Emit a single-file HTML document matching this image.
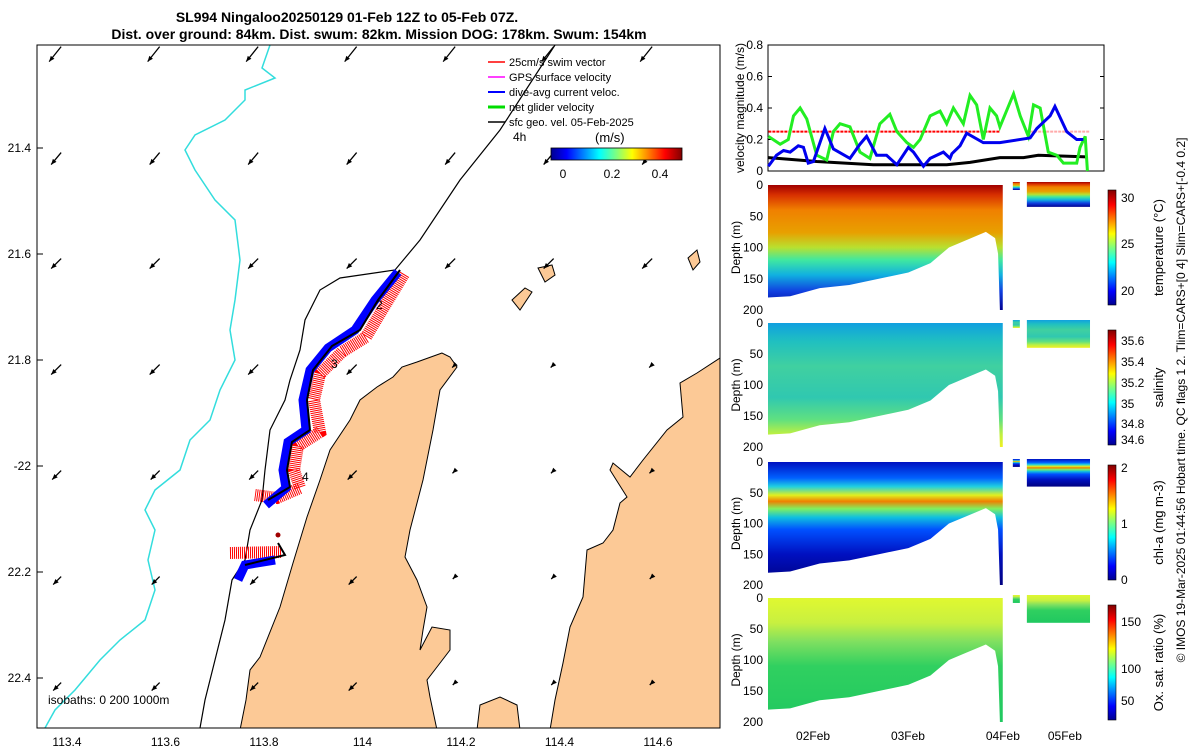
<!DOCTYPE html>
<html><head><meta charset="utf-8"><style>
body{margin:0;background:#fff}
svg{display:block;font-family:"Liberation Sans",sans-serif}
</style></head><body>
<svg id="fig" width="1200" height="750" viewBox="0 0 1200 750" xmlns="http://www.w3.org/2000/svg">
<defs>
<linearGradient id="jetH" x1="0" x2="1" y1="0" y2="0">
<stop offset="0" stop-color="#00008f"/><stop offset="0.12" stop-color="#0000ff"/><stop offset="0.37" stop-color="#00ffff"/><stop offset="0.5" stop-color="#7fff7f"/><stop offset="0.62" stop-color="#ffff00"/><stop offset="0.87" stop-color="#ff0000"/><stop offset="1" stop-color="#800000"/></linearGradient>
<linearGradient id="jetV" x1="0" x2="0" y1="1" y2="0">
<stop offset="0" stop-color="#00008f"/><stop offset="0.12" stop-color="#0000ff"/><stop offset="0.37" stop-color="#00ffff"/><stop offset="0.5" stop-color="#7fff7f"/><stop offset="0.62" stop-color="#ffff00"/><stop offset="0.87" stop-color="#ff0000"/><stop offset="1" stop-color="#800000"/></linearGradient>
<linearGradient id="gTemp" x1="0" x2="0" y1="0" y2="1">
<stop offset="0" stop-color="#a00000"/><stop offset="0.08" stop-color="#d83000"/><stop offset="0.2" stop-color="#f08000"/><stop offset="0.38" stop-color="#e8a000"/><stop offset="0.5" stop-color="#b8e030"/><stop offset="0.6" stop-color="#40e8a0"/><stop offset="0.72" stop-color="#10b0e0"/><stop offset="0.85" stop-color="#1040e0"/><stop offset="1" stop-color="#000090"/></linearGradient>
<linearGradient id="gSal" x1="0" x2="0" y1="0" y2="1">
<stop offset="0" stop-color="#10a0e0"/><stop offset="0.15" stop-color="#20c0c0"/><stop offset="0.35" stop-color="#40d0a0"/><stop offset="0.6" stop-color="#30c8b0"/><stop offset="0.78" stop-color="#60e080"/><stop offset="0.9" stop-color="#c0f040"/><stop offset="1" stop-color="#f0f020"/></linearGradient>
<linearGradient id="gChl" x1="0" x2="0" y1="0" y2="1">
<stop offset="0" stop-color="#0010c0"/><stop offset="0.13" stop-color="#0060ff"/><stop offset="0.2" stop-color="#20d0e0"/><stop offset="0.27" stop-color="#e0f020"/><stop offset="0.32" stop-color="#f08000"/><stop offset="0.38" stop-color="#80f060"/><stop offset="0.45" stop-color="#10c0e0"/><stop offset="0.55" stop-color="#0050ff"/><stop offset="0.75" stop-color="#0010c0"/><stop offset="1" stop-color="#000080"/></linearGradient>
<linearGradient id="gOx" x1="0" x2="0" y1="0" y2="1">
<stop offset="0" stop-color="#e0f830"/><stop offset="0.2" stop-color="#c8f040"/><stop offset="0.35" stop-color="#80e060"/><stop offset="0.55" stop-color="#30d060"/><stop offset="1" stop-color="#20c860"/></linearGradient>
</defs>

<text x="347" y="22" font-size="14" font-weight="bold" text-anchor="middle">SL994 Ningaloo20250129 01-Feb 12Z to 05-Feb 07Z.</text>
<text x="379" y="39" font-size="14" font-weight="bold" text-anchor="middle">Dist. over ground: 84km. Dist. swum: 82km. Mission DOG: 178km. Swum: 154km</text>

<g id="map">
<clipPath id="mapclip"><rect x="37" y="45" width="683" height="683"/></clipPath>
<g clip-path="url(#mapclip)">
<path fill="#fcc996" stroke="#000" stroke-width="1" d="M442,353 L417,362 402,367 393,377 377,387 360,400 350,420 330,450 320,480 307,517 293,563 280,607 260,657 250,670 246,700 240,730 437,730 430,697 427,680 437,667 450,650 450,630 432,627 420,650 423,630 427,607 417,580 405,557 410,530 423,480 433,430 440,390 457,367 450,357 Z"/>
<path fill="#fcc996" stroke="#000" stroke-width="1" d="M550,730 L555,700 563,663 570,627 583,597 587,550 603,543 613,530 620,503 627,497 610,470 613,463 630,477 643,460 667,430 683,417 680,383 697,373 720,358 722,358 722,730 Z"/>
<path fill="#fcc996" stroke="#000" stroke-width="1" d="M477,730 L480,705 500,697 517,705 520,730 Z"/>
<path fill="#fcc996" stroke="#000" d="M538,268 L552,265 555,275 545,282 Z"/>
<path fill="#fcc996" stroke="#000" d="M512,300 L525,288 532,292 520,310 Z"/>
<path fill="#fcc996" stroke="#000" d="M688,258 L697,250 700,262 693,270 Z"/>
<path fill="none" stroke="#33dddd" stroke-width="1.5" d="M270,45 L262,68 275,78 245,90 245,100 225,120 195,135 185,150 195,170 215,200 235,220 240,260 235,300 230,330 235,360 220,390 210,420 190,440 180,470 155,490 145,510 155,530 148,560 155,590 145,620 120,640 100,660 75,690 55,710 45,728"/>
<path fill="none" stroke="#000" stroke-width="1.2" d="M555,45 L500,130 460,180 420,240 395,270 340,278 320,290 305,320 300,350 290,380 285,400 270,430 265,470 262,500 250,530 245,560 232,580 225,620 215,660 205,700 200,728"/>
<g id="arrows"></g>
<g>
<path fill="none" stroke="#ff0000" stroke-width="12" stroke-dasharray="1 1" d="M404,274 L384,307 366,337 342,352 320,374 314,400 320,432 298,446 294,470 300,488 277,498 255,495"/>
<path fill="none" stroke="#ff0000" stroke-width="12" stroke-dasharray="1 1" d="M230,553 L282,552"/>
<path fill="none" stroke="#0000ff" stroke-width="9" d="M398,272 L375,300 355,330 328,348 310,370 303,400 306,430 288,442 283,470 286,488 266,505"/>
<path fill="none" stroke="#0000ff" stroke-width="9" d="M238,580 L245,565 275,560"/>
<path fill="none" stroke="#000" stroke-width="2" d="M400,270 L378,300 360,330 332,346 313,370 307,400 310,430 292,442 287,470 290,487 268,500"/>
<path fill="none" stroke="#000" stroke-width="2" d="M245,565 L285,555 278,543"/>
<circle cx="278" cy="535" r="2.5" fill="#a00000"/>
<text x="376" y="309" font-size="12">2</text><text x="331" y="368" font-size="12">3</text>
<text x="302" y="481" font-size="12">4</text>
</g>
</g>
<rect x="37" y="45" width="683" height="683" fill="none" stroke="#000" stroke-width="1"/>
<g id="mapticks" font-size="12"></g>
<text x="48" y="704" font-size="12">isobaths: 0   200  1000m</text>
<g font-size="11">
<line x1="488" y1="62" x2="505" y2="62" stroke="#ff0000" stroke-width="1.5"/><text x="509" y="66">25cm/s swim vector</text>
<line x1="488" y1="77" x2="505" y2="77" stroke="#ff00ff" stroke-width="1.5"/><text x="509" y="81">GPS surface velocity</text>
<line x1="488" y1="92" x2="505" y2="92" stroke="#0000ff" stroke-width="2"/><text x="509" y="96">dive-avg current veloc.</text>
<line x1="488" y1="107" x2="505" y2="107" stroke="#00dd00" stroke-width="3"/><text x="509" y="111">net glider velocity</text>
<line x1="488" y1="122" x2="505" y2="122" stroke="#000" stroke-width="1.5"/><text x="509" y="126">sfc geo. vel. 05-Feb-2025</text>
<text x="513" y="141" font-size="12">4h</text>
<text x="595" y="142" font-size="13">(m/s)</text>
<rect x="551" y="148" width="131" height="12" fill="url(#jetH)" stroke="#000" stroke-width="0.8"/>
<text x="563" y="178" font-size="12" text-anchor="middle">0</text>
<text x="612" y="178" font-size="12" text-anchor="middle">0.2</text>
<text x="660" y="178" font-size="12" text-anchor="middle">0.4</text>
</g>
</g>

<g id="vel"></g>
<g id="sections"></g>
<text transform="translate(1185,400) rotate(-90)" font-size="12" text-anchor="middle">© IMOS 19-Mar-2025 01:44:56 Hobart time. QC flags 1  2. Tlim=CARS+[0 4] Slim=CARS+[-0.4 0.2]</text>
</svg>
<script>
// ---------- data ----------
const greenH=[0.1,3.3,5.5,6.9,8.7,10.5,13.2,15.9,17.7,19.5,22.2,24.9,27.6,30.3,33.0,34.9,37.6,39.4,41.2,43.9,46.6,48.4,50.2,52.9,54.7,56.5,58.3,60.1,61.9,62.8,66.5,68.3,70.5,71.9,73.7,75.9,78.2,80.0,83.6,84.5,85.9,86.5];
const greenV=[0.22,0.17,0.2,0.35,0.4,0.33,0.1,0.07,0.25,0.3,0.28,0.12,0.08,0.3,0.36,0.25,0.18,0.15,0.2,0.35,0.38,0.3,0.4,0.3,0.48,0.42,0.2,0.4,0.35,0.28,0.49,0.35,0.22,0.42,0.4,0.12,0.1,0.05,0.05,0.15,0.22,0.0];
const blueH=[0.1,2.3,4.2,6.0,8.2,9.6,10.9,12.3,15.4,17.7,22.2,24.9,26.7,29.4,32.1,34.9,38.0,39.4,42.1,43.9,47.5,49.3,49.8,52.0,53.8,58.3,62.8,71.0,72.8,76.4,77.7,80.9,83.6,85.4];
const blueV=[0.03,0.1,0.13,0.12,0.16,0.15,0.05,0.06,0.27,0.14,0.08,0.17,0.22,0.1,0.1,0.04,0.15,0.12,0.03,0.08,0.12,0.08,0.11,0.16,0.24,0.18,0.18,0.21,0.27,0.35,0.41,0.25,0.2,0.2];
const blackH=[0.1,13.2,28.5,48.4,54.7,62.8,69.2,73.2,86.3];
const blackV=[0.085,0.06,0.04,0.04,0.055,0.085,0.085,0.1,0.09];
const swimH=[0.1,62.8];const swimV=[0.25,0.25];
const swim2H=[71,87];const swim2V=[0.25,0.25];
const velTicks=[0,0.2,0.4,0.6,0.8];
const dayLabels=["02Feb","03Feb","04Feb","05Feb"];
const dayHours=[12.2,37.9,63.6,80.4];
const profH=[0,6,14,22,30,38,44,49,53,59,61.5,62.3,62.8,63.6];
const profD=[180,178,165,160,150,140,125,100,90,75,85,110,200,200];
const depthTicks=[0,50,100,150,200];
const mapLat=[21.4,21.6,21.8,-22,22.2,22.4];
const mapLon=[113.4,113.6,113.8,114,114.2,114.4,114.6];
const arrowLon=[113.38,113.58,113.78,113.98,114.18,114.38,114.58];
const arrowLat=[21.22,21.42,21.62,21.82,22.02,22.22,22.42];
const arrowU=[-0.6,-0.5,-0.5,-0.5,-0.45,-0.4,-0.4];
const arrowV=[0.75,0.6,0.5,0.5,0.45,0.4,0.4];

const NS="http://www.w3.org/2000/svg";
function mk(p,t,a){const e=document.createElementNS(NS,t);for(const k in a)e.setAttribute(k,a[k]);p.appendChild(e);return e;}
const lonX=v=>67+(v-113.4)/0.2*98.5;
const latY=v=>148+(Math.abs(v)-21.4)/0.2*106;
const mt=document.getElementById('mapticks');
mapLat.forEach(v=>{const t=mk(mt,'text',{x:31,y:latY(v)+4,'text-anchor':'end'});t.textContent=String(v);


mk(mt,'line',{x1:37,x2:43,y1:latY(v),y2:latY(v),stroke:'#000'});});
mapLon.forEach(v=>{const t=mk(mt,'text',{x:lonX(v),y:746,'text-anchor':'middle'});t.textContent=String(v);

});
const ar=document.getElementById('arrows');
arrowLat.forEach((la,j)=>arrowLon.forEach((lo,i)=>{
 const x=lonX(lo)+4,y=latY(la)-6;if(x<40||y<45)return;
 const L=(i>=4&&j>=3)?6:20;const u=arrowU[j]*L,v=arrowV[j]*L;
 const l=mk(ar,'line',{x1:x,y1:y,x2:x+u,y2:y+v,stroke:'#000','stroke-width':1.3});
 
 
 const a=Math.atan2(v,u);
 mk(ar,'path',{d:`M${x+u},${y+v} L${x+u-6*Math.cos(a-0.4)},${y+v-6*Math.sin(a-0.4)} L${x+u-6*Math.cos(a+0.4)},${y+v-6*Math.sin(a+0.4)}Z`,fill:'#000'});
}));
const X0=768,X1=1104;
const hx=h=>X0+h/0.2708;
const vel=document.getElementById('vel');
const vy=v=>171-v/0.8*126;
mk(vel,'rect',{x:X0,y:45,width:X1-X0,height:126,fill:'none',stroke:'#000'});
velTicks.forEach(v=>{const t=mk(vel,'text',{x:X0-5,y:vy(v)+4,'font-size':12,'text-anchor':'end'});t.textContent=v===0?'0':v.toFixed(1);


mk(vel,'line',{x1:X0,x2:X0+4,y1:vy(v),y2:vy(v),stroke:'#000'});mk(vel,'line',{x1:X1-4,x2:X1,y1:vy(v),y2:vy(v),stroke:'#000'});});
function series(H,V,col,w,name,dash){const p=mk(vel,'polyline',{points:H.map((h,i)=>hx(h)+','+vy(V[i])).join(' '),fill:'none',stroke:col,'stroke-width':w});
if(dash)p.setAttribute('stroke-dasharray',dash);

}
series(swimH,swimV,'#ff0000',2,'swim-speed-line','3 1');
series(swim2H,swim2V,'#ffaaaa',2,'swim-speed-line-2','3 1');
series(blackH,blackV,'#000',3,'geostrophic-speed-line');
series(greenH,greenV,'#22ee22',3,'net-velocity-line');
series(blueH,blueV,'#0000ee',3,'current-velocity-line');
const vt=mk(vel,'text',{transform:'translate(744,108) rotate(-90)','font-size':12,'text-anchor':'middle'});vt.textContent='velocity magnitude (m/s)';


const S=document.getElementById('sections');
const panels=[
 {top:185,bot:310,fill:'gTemp',name:'temperature',label:'temperature (°C)',cb:[190,305],ticks:[['30',198],['25',244],['20',291]],blockD:35},
 {top:323,bot:447,fill:'gSal',name:'salinity',label:'salinity',cb:[330,445],ticks:[['35.6',341],['35.4',362],['35.2',383],['35',404],['34.8',424],['34.6',440]],blockD:40},
 {top:462,bot:585,fill:'gChl',name:'chlorophyll',label:'chl-a (mg m-3)',cb:[465,580],ticks:[['2',468],['1',524],['0',580]],blockD:40},
 {top:598,bot:722,fill:'gOx',name:'oxygen',label:'Ox. sat. ratio (%)',cb:[605,720],ticks:[['150',622],['100',669],['50',701]],blockD:40}];
panels.forEach((p,k)=>{
 const dy=d=>p.top+d/200*(p.bot-p.top);
 const g=mk(S,'g',{});
 
 
 const pts=[hx(0)+','+dy(0)].concat(profH.map((h,i)=>hx(h)+','+dy(profD[i]))).concat([hx(63.6)+','+dy(0)]);
 const cid='cl'+k;const cp=mk(g,'clipPath',{id:cid});mk(cp,'polygon',{points:pts.join(' ')});
 mk(g,'rect',{x:X0,y:p.top,width:hx(63.6)-X0,height:p.bot-p.top,fill:'url(#'+p.fill+')','clip-path':'url(#'+cid+')'});
 mk(g,'rect',{x:hx(66.3),y:dy(0)-3,width:hx(68.2)-hx(66.3),height:dy(8)-dy(0)+3,fill:'url(#'+p.fill+')'});
 mk(g,'rect',{x:hx(70.1),y:dy(0)-3,width:hx(87.2)-hx(70.1),height:dy(p.blockD)-dy(0)+3,fill:'url(#'+p.fill+')'});
 depthTicks.forEach(d=>{const t=mk(g,'text',{x:X0-5,y:dy(d)+4,'font-size':12,'text-anchor':'end'});t.textContent=String(d);
 
 });
 const yt=mk(g,'text',{transform:`translate(740,${(p.top+p.bot)/2}) rotate(-90)`,'font-size':12,'text-anchor':'middle'});yt.textContent='Depth (m)';
 
 
 mk(g,'rect',{x:1108,y:p.cb[0],width:8,height:p.cb[1]-p.cb[0],fill:'url(#jetV)',stroke:'#000','stroke-width':0.6});
 p.ticks.forEach(t=>{const e=mk(g,'text',{x:1121,y:t[1]+4,'font-size':12});e.textContent=t[0];
 
 });
 const cl=mk(g,'text',{transform:`translate(1163,${(p.cb[0]+p.cb[1])/2}) rotate(-90)`,'font-size':13,'text-anchor':'middle'});cl.textContent=p.label;
 
 
});
dayLabels.forEach((l,i)=>{const t=mk(S,'text',{x:hx(dayHours[i]),y:740,'font-size':12,'text-anchor':'middle'});t.textContent=l;

});
</script>
</body></html>
